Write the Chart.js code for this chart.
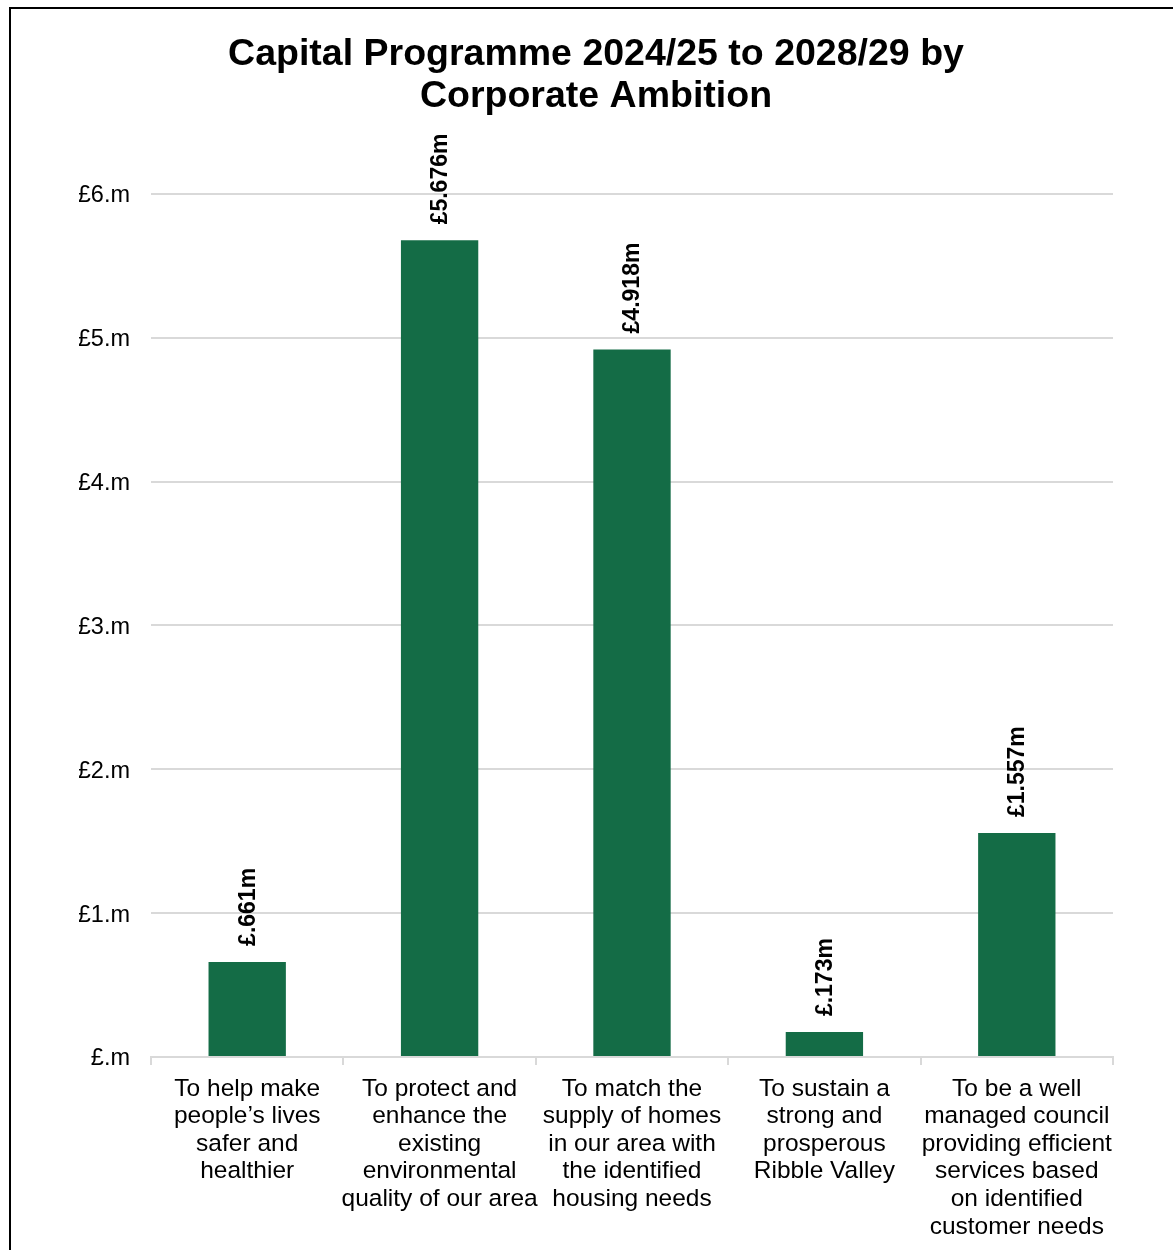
<!DOCTYPE html>
<html>
<head>
<meta charset="utf-8">
<script src="https://cdn.jsdelivr.net/npm/chart.js@4"></script>
<style>
  html, body { margin: 0; padding: 0; background: #fff; }
  #wrap { position: relative; width: 1173px; height: 1250px; }
  #frame { position: absolute; left: 9px; top: 7px; right: -10px; bottom: -10px;
           border-left: 2px solid #000; border-top: 2px solid #000; pointer-events: none; }
</style>
</head>
<body>
<div id="wrap">
  <canvas id="c" width="1173" height="1250"></canvas>
  <div id="frame"></div>
</div>
<script>
const categories = [
  ["To help make", "people\u2019s lives", "safer and", "healthier"],
  ["To protect and", "enhance the", "existing", "environmental", "quality of our area"],
  ["To match the", "supply of homes", "in our area with", "the identified", "housing needs"],
  ["To sustain a", "strong and", "prosperous", "Ribble Valley"],
  ["To be a well", "managed council", "providing efficient", "services based", "on identified", "customer needs"]
];
const values = [0.661, 5.676, 4.918, 0.173, 1.557];
const titleLines = ["Capital Programme 2024/25 to 2028/29 by", "Corporate Ambition"];
const yTicks = [0, 1, 2, 3, 4, 5, 6];

const FONT = "Arial, 'Liberation Sans', sans-serif";
const BAR = '#146c46';
const GRID = '#d9d9d9';

function money(v) {
  let s = v.toFixed(3);
  if (s.startsWith('0')) s = s.slice(1);
  return '\u00a3' + s + 'm';
}

const labelPlugin = {
  id: 'vlabels',
  afterDatasetsDraw(chart) {
    const ctx = chart.ctx;
    const meta = chart.getDatasetMeta(0);
    ctx.save();
    ctx.font = 'bold 23px ' + FONT;
    ctx.fillStyle = '#000';
    ctx.textAlign = 'left';
    ctx.textBaseline = 'middle';
    meta.data.forEach((bar, i) => {
      ctx.save();
      ctx.translate(bar.x, bar.y - 16);
      ctx.rotate(-Math.PI / 2);
      ctx.fillText(money(values[i]), 0, 1);
      ctx.restore();
    });
    ctx.restore();
  }
};

new Chart(document.getElementById('c'), {
  type: 'bar',
  data: {
    labels: categories,
    datasets: [{
      data: values,
      backgroundColor: BAR,
      borderWidth: 0,
      barPercentage: 0.402,
      categoryPercentage: 1
    }]
  },
  options: {
    responsive: false,
    animation: false,
    layout: { padding: { left: 79, right: 60, top: 0, bottom: 0 } },
    plugins: {
      legend: { display: false },
      tooltip: { enabled: false },
      title: {
        display: true,
        text: titleLines,
        color: '#000',
        font: { family: FONT, size: 37.5, weight: 'bold', lineHeight: 1.13 },
        padding: { top: 33, bottom: 76 }
      }
    },
    scales: {
      x: {
        grid: { offset: true, drawOnChartArea: false, drawTicks: true, tickLength: 8, color: GRID, lineWidth: 2 },
        border: { display: true, color: GRID, width: 2 },
        ticks: { color: '#000', font: { family: FONT, size: 24.5, lineHeight: 1.127 }, maxRotation: 0, minRotation: 0, autoSkip: false, padding: 10 },
        afterFit(scale) { scale.height = 193; }
      },
      y: {
        min: 0, max: 6,
        afterBuildTicks(scale) { scale.ticks = yTicks.map(v => ({ value: v })); },
        grid: { color: GRID, lineWidth: 2, drawTicks: false },
        border: { display: false },
        ticks: {
          color: '#000', padding: 21, labelOffset: 2,
          font: { family: FONT, size: 23.5 },
          callback: v => v === 0 ? '\u00a3.m' : '\u00a3' + v + '.m'
        },
        afterFit(scale) { scale.width = 72; }
      }
    }
  },
  plugins: [labelPlugin]
});
</script>
</body>
</html>
